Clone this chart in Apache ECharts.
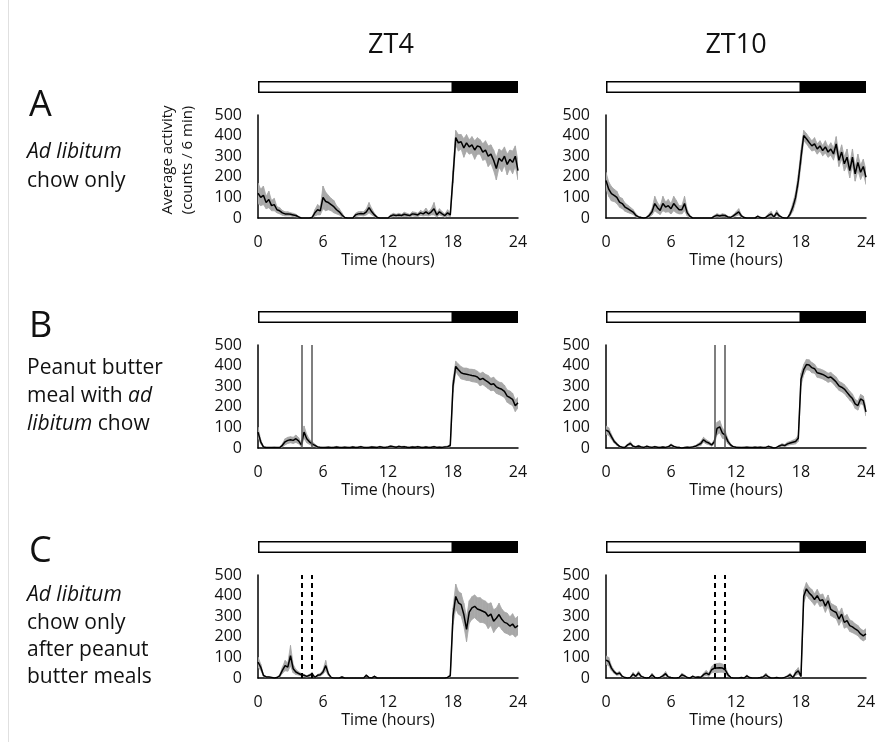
<!DOCTYPE html>
<html>
<head>
<meta charset="utf-8">
<script src="https://cdn.jsdelivr.net/npm/echarts@6/dist/echarts.min.js"></script>
<style>
html,body{margin:0;padding:0;background:#fff;}
#chart{width:887px;height:742px;}
</style>
</head>
<body>
<div id="chart"></div>
<script>
// Time axis ticks and light/dark schedule
const xTicks = [0, 6, 12, 18, 24];
const yTicks = [0, 100, 200, 300, 400, 500];
const lightDark = [18, 6]; // hours of light, hours of dark
const stepHours = 0.25;

// Panel A, ZT4 – mean and SEM (counts / 6 min), every 15 min from 0 to 24 h
const aL = [120,100,110,75, 90,60,65,40, 35,25,20,20, 18,15,12,5, 0,0,0,0, 3,25,40,35, 100,80,75,65, 55,40,30,15, 2,0,0,0, 15,20,22,20, 30,50,30,15, 3,0,0,0, 0,10,15,12, 15,12,18,15, 12,20,18,15, 25,20,30,20, 30,45,15,30, 20,12,25,15, 200,390,365,370, 340,365,345,355, 330,350,345,320, 330,300,310,280, 240,290,275,300, 260,285,270,300, 230];
const aLs = [50,40,45,30, 40,25,30,15, 15,12,10,10, 8,8,6,3, 0,0,0,0, 3,15,25,20, 55,45,35,30, 30,20,15,10, 2,0,0,0, 8,10,10,10, 15,25,15,8, 3,0,0,0, 0,6,8,6, 8,6,10,8, 6,10,10,8, 12,10,18,10, 15,30,10,15, 10,8,15,8, 30,35,40,35, 45,40,35,40, 45,40,35,40, 45,50,45,50, 55,45,50,45, 50,45,55,50, 45];
// Panel A, ZT10
const aR = [182,140,118,110, 100,77,70,53, 45,37,29,13, 5,2,0,3, 13,30,70,50, 37,70,53,60, 45,70,55,40, 40,70,25,8, 0,0,0,0, 0,0,0,0, 8,13,10,13, 12,5,3,10, 20,30,10,2, 0,0,0,0, 8,2,0,3, 13,20,5,25, 10,3,0,0, 20,53,100,180, 295,400,385,367, 350,360,335,350, 327,345,320,335, 311,360,280,320, 263,295,230,295, 214,270,222,250, 198];
const aRs = [40,35,35,30, 30,25,25,20, 18,15,12,8, 4,2,0,2, 8,15,35,25, 20,35,25,30, 25,35,30,20, 20,35,15,5, 0,0,0,0, 0,0,0,0, 5,8,6,8, 6,3,2,6, 10,15,6,2, 0,0,0,0, 5,2,0,2, 8,12,4,12, 6,2,0,0, 10,20,25,30, 35,25,25,25, 25,30,25,25, 25,30,25,30, 30,35,30,35, 35,40,35,40, 35,40,35,35, 35];
// Panel B, ZT4
const bL = [77,30,5,2, 2,2,3,2, 2,13,30,37, 40,37,45,35, 15,77,45,30, 20,13,5,3, 2,3,4,2, 3,5,3,2, 4,3,2,5, 3,4,6,3, 2,3,5,4, 3,6,4,3, 5,8,6,4, 7,5,6,4, 3,5,4,6, 4,3,5,3, 4,6,3,4, 3,5,6,13, 300,396,380,365, 360,358,355,352, 350,345,332,338, 328,320,308,312, 297,290,285,275, 252,245,236,205, 220];
const bLs = [25,10,3,1, 1,1,2,1, 1,8,15,15, 15,15,18,15, 8,30,20,12, 10,6,3,2, 1,2,2,1, 2,3,2,1, 2,2,1,3, 2,2,3,2, 1,2,3,2, 2,3,2,2, 3,4,3,2, 4,3,3,2, 2,3,2,3, 2,2,3,2, 2,3,2,2, 2,3,3,6, 30,25,28,30, 28,30,28,30, 30,28,30,30, 30,32,30,32, 32,30,32,30, 30,32,30,28, 25];
// Panel B, ZT10
const bR = [87,80,55,32, 19,8,4,3, 15,22,8,5, 10,5,3,8, 5,3,6,4, 3,5,3,6, 15,8,4,3, 0,2,4,3, 5,8,15,22, 40,30,24,15, 30,95,103,72, 63,32,15,6, 4,3,2,3, 4,3,2,4, 3,4,2,3, 8,4,0,3, 10,15,12,20, 24,28,32,47, 333,380,405,403, 390,385,365,362, 357,350,341,345, 333,320,302,295, 286,270,254,240, 214,206,238,230, 175];
const bRs = [20,18,12,8, 6,3,2,2, 5,8,4,2, 3,2,2,3, 2,2,3,2, 2,2,2,3, 5,3,2,2, 0,1,2,2, 3,4,6,10, 12,10,8,6, 10,30,30,25, 20,12,6,3, 2,2,1,2, 2,2,1,2, 2,2,1,2, 3,2,0,2, 4,6,5,8, 8,10,12,15, 30,25,25,25, 25,22,22,22, 22,22,22,22, 22,25,22,22, 22,22,22,22, 22,22,22,22, 20];
// Panel C, ZT4
const cL = [77,53,13,5, 5,3,0,2, 10,37,60,53, 108,45,29,22, 16,13,8,13, 20,3,13,16, 29,60,20,3, 0,0,0,5, 0,0,0,0, 0,0,0,0, 13,2,0,8, 0,0,0,0, 0,0,0,0, 0,0,0,0, 0,0,0,0, 0,0,0,0, 0,0,0,0, 0,0,3,12, 300,396,365,356, 308,236,320,340, 348,335,330,324, 318,300,310,276, 290,308,285,270, 265,252,262,244, 255];
const cLs = [25,15,5,2, 2,1,0,1, 5,15,25,20, 50,20,12,8, 6,5,3,5, 8,1,5,6, 10,25,8,1, 0,0,0,2, 0,0,0,0, 0,0,0,0, 5,1,0,3, 0,0,0,0, 0,0,0,0, 0,0,0,0, 0,0,0,0, 0,0,0,0, 0,0,0,0, 0,0,1,6, 40,60,55,55, 55,60,55,55, 55,55,60,55, 55,60,55,55, 50,55,50,50, 50,45,50,45, 45];
// Panel C, ZT10
const cR = [87,80,48,30, 19,24,8,2, 0,3,19,8, 24,8,3,0, 2,16,3,0, 3,10,21,5, 2,0,0,2, 16,10,2,0, 8,3,5,3, 16,24,16,40, 48,48,50,48, 40,16,3,0, 0,0,2,0, 10,2,0,0, 0,2,5,16, 5,0,0,2, 0,0,3,8, 16,2,24,35, 8,397,433,413, 400,381,400,375, 380,349,375,333, 325,318,286,310, 270,278,254,248, 238,230,214,205, 214];
const cRs = [20,20,12,8, 6,8,4,1, 0,2,8,4, 10,4,2,0, 1,8,2,0, 2,5,10,3, 1,0,0,1, 8,5,1,0, 4,2,3,2, 8,12,8,15, 20,22,22,20, 18,8,2,0, 0,0,1,0, 5,1,0,0, 0,1,3,8, 3,0,0,1, 0,0,2,5, 8,2,12,15, 5,30,30,28, 30,28,30,28, 28,30,28,30, 30,30,30,30, 28,30,28,28, 25,25,25,25, 25];

// Meal times (hours)
const mealZT4 = [4, 5];
const mealZT10 = [10, 11];

const FONT = "'Open Sans', 'DejaVu Sans', sans-serif";
const colLeft = [258, 606];
const rowTop = [115, 345, 575];
const plotW = 260, plotH = 103;
const BAND = '#a8a8a8';

const panels = [
  {row:0, col:0, mean:aL, sem:aLs, meals:null},
  {row:0, col:1, mean:aR, sem:aRs, meals:null},
  {row:1, col:0, mean:bL, sem:bLs, meals:mealZT4, dashed:false},
  {row:1, col:1, mean:bR, sem:bRs, meals:mealZT10, dashed:false},
  {row:2, col:0, mean:cL, sem:cLs, meals:mealZT4, dashed:true},
  {row:2, col:1, mean:cR, sem:cRs, meals:mealZT10, dashed:true}
];

function bandRender(params, api) {
  const p0 = api.coord([api.value(0), api.value(1)]);
  const p1 = api.coord([api.value(3), api.value(4)]);
  const p2 = api.coord([api.value(3), api.value(5)]);
  const p3 = api.coord([api.value(0), api.value(2)]);
  return {
    type: 'polygon',
    shape: {points: [p0, p1, p2, p3]},
    style: {fill: BAND, stroke: BAND, lineWidth: 0.8}
  };
}

const grid = [], xAxis = [], yAxis = [], series = [];
panels.forEach((p, i) => {
  grid.push({left: colLeft[p.col], top: rowTop[p.row], width: plotW, height: plotH});
  xAxis.push({
    gridIndex: i, type: 'value', min: 0, max: 24, interval: 6,
    axisLine: {show: true, onZero: false, lineStyle: {color: '#000', width: 1.5}},
    axisTick: {show: false}, splitLine: {show: false},
    axisLabel: {fontSize: 16, color: '#111', margin: 16, fontFamily: FONT,
      customValues: xTicks},
    name: 'Time (hours)', nameLocation: 'middle', nameGap: 34,
    nameTextStyle: {fontSize: 16, color: '#111', fontFamily: FONT}
  });
  yAxis.push({
    gridIndex: i, type: 'value', min: 0, max: 500, interval: 100,
    axisLine: {show: true, lineStyle: {color: '#000', width: 1.5}},
    axisTick: {show: false}, splitLine: {show: false},
    axisLabel: {fontSize: 16, color: '#111', margin: 16, fontFamily: FONT}
  });
  const t = p.mean.map((v, k) => k * stepHours);
  const lower = p.mean.map((v, k) => Math.max(0, v - p.sem[k]));
  const upper = p.mean.map((v, k) => v + p.sem[k]);
  const segs = [];
  for (let k = 0; k < t.length - 1; k++) {
    segs.push([t[k], lower[k], upper[k], t[k + 1], lower[k + 1], upper[k + 1]]);
  }
  series.push({
    type: 'custom', xAxisIndex: i, yAxisIndex: i, silent: true, clip: true,
    renderItem: bandRender,
    encode: {x: [0, 3], y: [1, 2, 4, 5]},
    data: segs, z: 1
  });
  const s = {
    type: 'line', xAxisIndex: i, yAxisIndex: i, symbol: 'none', z: 3,
    lineStyle: {color: '#000', width: 1.5}, silent: true,
    data: t.map((x, k) => [x, p.mean[k]])
  };
  if (p.meals) {
    s.markLine = {
      silent: true, symbol: 'none', label: {show: false},
      lineStyle: p.dashed ? {color: '#000', width: 2, type: [5, 4]} : {color: '#555', width: 1.5, type: 'solid'},
      data: p.meals.map(m => ({xAxis: m}))
    };
  }
  series.push(s);
});

// light/dark bars
panels.forEach((p, i) => {
  const gi = grid.length;
  grid.push({left: colLeft[p.col], top: rowTop[p.row] - 34, width: plotW, height: 12});
  xAxis.push({gridIndex: gi, type: 'value', min: 0, max: 24, show: false});
  yAxis.push({gridIndex: gi, type: 'category', data: ['LD'], show: false});
  series.push({
    type: 'bar', xAxisIndex: gi, yAxisIndex: gi, stack: 'ld' + i, barWidth: 12, silent: true,
    itemStyle: {color: '#fff', borderColor: '#000', borderWidth: 1.5},
    data: [lightDark[0]]
  });
  series.push({
    type: 'bar', xAxisIndex: gi, yAxisIndex: gi, stack: 'ld' + i, barWidth: 12, silent: true,
    itemStyle: {color: '#000', borderColor: '#000', borderWidth: 1.5},
    data: [lightDark[1]]
  });
});

const RS = 21;
function txt(x, y, text, size, opts) {
  return Object.assign({
    type: 'text', x: x, y: y, silent: true,
    style: Object.assign({text: text, fontSize: size, fontFamily: FONT, fill: '#111',
      textAlign: 'left', textVerticalAlign: 'middle'}, (opts && opts.style) || {})
  }, opts && opts.el ? opts.el : {});
}
const rich = {
  n: {fontSize: RS, fontFamily: FONT, fill: '#111', fontStyle: 'normal'},
  i: {fontSize: RS, fontFamily: FONT, fill: '#111', fontStyle: 'italic'}
};
const graphic = [
  {type: 'line', silent: true, shape: {x1: 8.5, y1: 0, x2: 8.5, y2: 742},
    style: {stroke: '#e0e0e0', lineWidth: 1}},
  txt(391, 45, 'ZT4', 27, {style: {textAlign: 'center'}}),
  txt(736, 45, 'ZT10', 27, {style: {textAlign: 'center'}}),
  txt(29, 106, 'A', 36),
  txt(29, 327, 'B', 36),
  txt(29, 552, 'C', 36),
  txt(27, 152, '{i|Ad libitum}', RS, {style: {rich: rich}}),
  txt(27, 181, 'chow only', RS),
  txt(27, 368, 'Peanut butter', RS),
  txt(27, 396, '{n|meal with }{i|ad}', RS, {style: {rich: rich}}),
  txt(27, 424, '{i|libitum}{n| chow}', RS, {style: {rich: rich}}),
  txt(27, 595, '{i|Ad libitum}', RS, {style: {rich: rich}}),
  txt(27, 623, 'chow only', RS),
  txt(27, 650, 'after peanut', RS),
  txt(27, 677, 'butter meals', RS),
  {
    type: 'text', x: 178, y: 160, rotation: Math.PI / 2, silent: true,
    style: {text: 'Average activity\n(counts / 6 min)', fontSize: 15, fontFamily: FONT, fill: '#111',
      textAlign: 'center', textVerticalAlign: 'middle', lineHeight: 20}
  }
];

const chart = echarts.init(document.getElementById('chart'), null, {renderer: 'canvas'});
chart.setOption({
  backgroundColor: '#fff',
  animation: false,
  grid, xAxis, yAxis, series, graphic
});
</script>
</body>
</html>
